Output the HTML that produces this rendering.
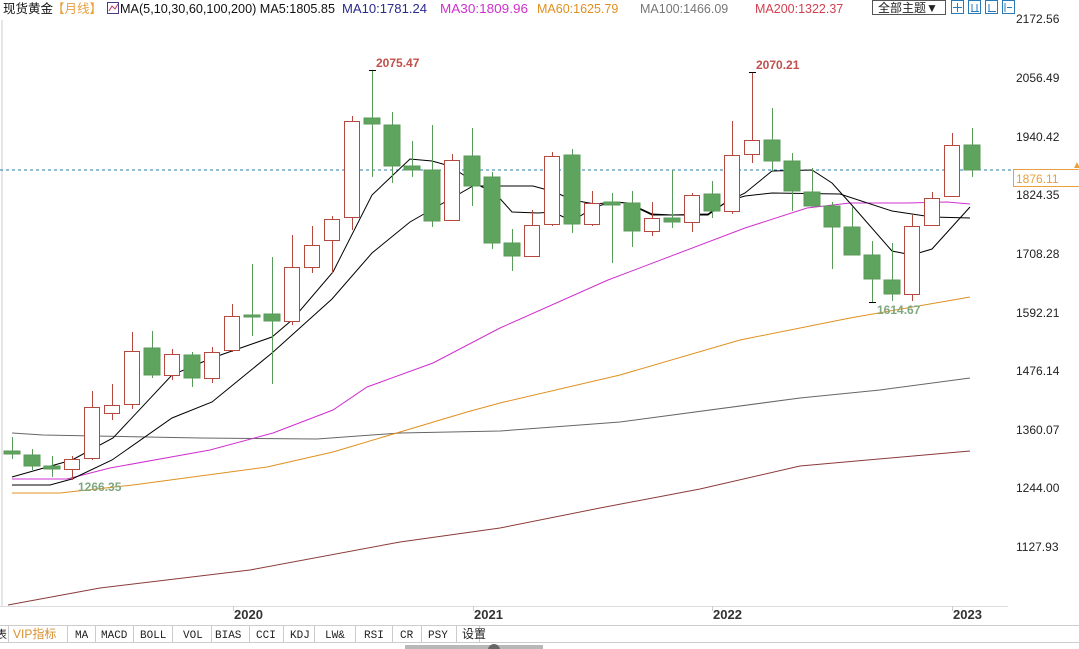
<!DOCTYPE html>
<html><head><meta charset="utf-8"><style>
body{margin:0;width:1079px;height:649px;overflow:hidden;background:#fff;font-family:"Liberation Sans","Noto Sans CJK SC",sans-serif;}
svg{position:absolute;left:0;top:0}
</style></head><body>
<svg width="1079" height="649" viewBox="0 0 1079 649" xmlns="http://www.w3.org/2000/svg">
<rect x="0" y="0" width="1079" height="649" fill="#fff"/>
<line x1="2" y1="20" x2="2" y2="606" stroke="#ccc"/>
<line x1="0" y1="606.5" x2="1008" y2="606.5" stroke="#ddd"/>
<g stroke="#ccc"><line x1="233.5" y1="606" x2="233.5" y2="611"/><line x1="473.5" y1="606" x2="473.5" y2="611"/><line x1="712.5" y1="606" x2="712.5" y2="611"/><line x1="952.5" y1="606" x2="952.5" y2="611"/></g>
<g font-size="13" font-weight="bold" fill="#333"><text x="234" y="619">2020</text><text x="474" y="619">2021</text><text x="713" y="619">2022</text><text x="953" y="619">2023</text></g>
<g font-size="12" fill="#222"><text x="1016" y="23">2172.56</text><text x="1016" y="82">2056.49</text><text x="1016" y="141">1940.42</text><text x="1016" y="199">1824.35</text><text x="1016" y="258">1708.28</text><text x="1016" y="317">1592.21</text><text x="1016" y="375">1476.14</text><text x="1016" y="434">1360.07</text><text x="1016" y="492">1244.00</text><text x="1016" y="551">1127.93</text></g>
<line x1="0" y1="170" x2="1079" y2="170" stroke="#2a7ca8" stroke-dasharray="3,3"/>
<rect x="1013.5" y="169.5" width="66" height="17" fill="#fff" stroke="#e8a040"/>
<text x="1016" y="183" font-size="12" fill="#e8a040">1876.11</text>
<text x="1072" y="168" font-size="10" fill="#e8a040">▲</text>
<polyline fill="none" stroke="#8b3a3a" stroke-width="1" points="8,605 100,588 250,570 400,542 500,528 600,508 700,489 800,466 970,451"/>
<polyline fill="none" stroke="#666" stroke-width="1" points="12,433 43,435 200,438 317,439 400,433 500,431 620,422 800,398 880,390 970,378"/>
<polyline fill="none" stroke="#e09020" stroke-width="1" points="12,493 60,493 133,485 267,467 333,452 400,432 467,412 500,403 620,375 740,340 850,318 970,297"/>
<polyline fill="none" stroke="#d030d0" stroke-width="1" points="12,479 67,479 110,468 210,450 273,433 333,410 367,387 433,363 500,328 608,280 745,228 807,208 850,203 907,203 947,202 970,204"/>
<polyline fill="none" stroke="#000" stroke-width="1" points="12,485 50,485 72,479 112,460 172,418 212,402 272,353 332,299 372,253 410,222 473,186 533,186 555,192 572,200 595,204 615,202 628,203 652,214 672,215 708,214 728,201 745,196 772,193 840,194 892,211 932,217 970,218"/>
<polyline fill="none" stroke="#000" stroke-width="1" points="12,477 72,460 113,438 172,375 212,358 272,337 292,320 333,272 372,195 410,159 432,161 450,166 480,186 495,193 512,212 538,213 553,212 572,221 595,207 612,202 627,203 652,215 708,215 725,203 745,193 772,171 812,170 832,183 850,203 892,251 912,255 932,249 970,207"/>
<g stroke-width="1">
<g stroke="#5a9a5a" fill="#5ea35e">
<line x1="12.5" y1="437" x2="12.5" y2="459"/><rect x="4" y="451" width="16" height="3"/>
<line x1="32.5" y1="449" x2="32.5" y2="470"/><rect x="24" y="455" width="16" height="11"/>
<line x1="52.5" y1="456" x2="52.5" y2="477"/><rect x="44" y="466" width="16" height="3"/>
<line x1="152.5" y1="331" x2="152.5" y2="378"/><rect x="144" y="348" width="16" height="27"/>
<line x1="192.5" y1="352" x2="192.5" y2="387"/><rect x="184" y="355" width="16" height="23"/>
<line x1="252.5" y1="264" x2="252.5" y2="336"/><rect x="244" y="315" width="16" height="2"/>
<line x1="272.5" y1="257" x2="272.5" y2="384"/><rect x="264" y="314" width="16" height="7"/>
<line x1="372.5" y1="70" x2="372.5" y2="177"/><rect x="364" y="118" width="16" height="6"/>
<line x1="392.5" y1="112" x2="392.5" y2="183"/><rect x="384" y="125" width="16" height="41"/>
<line x1="412.5" y1="141" x2="412.5" y2="177"/><rect x="404" y="166" width="16" height="4"/>
<line x1="432.5" y1="125" x2="432.5" y2="227"/><rect x="424" y="170" width="16" height="51"/>
<line x1="472.5" y1="128" x2="472.5" y2="206"/><rect x="464" y="156" width="16" height="30"/>
<line x1="492.5" y1="172" x2="492.5" y2="249"/><rect x="484" y="177" width="16" height="66"/>
<line x1="512.5" y1="229" x2="512.5" y2="271"/><rect x="504" y="243" width="16" height="13"/>
<line x1="572.5" y1="149" x2="572.5" y2="233"/><rect x="564" y="155" width="16" height="69"/>
<line x1="612.5" y1="193" x2="612.5" y2="263"/><rect x="604" y="202" width="16" height="3"/>
<line x1="632.5" y1="191" x2="632.5" y2="247"/><rect x="624" y="203" width="16" height="28"/>
<line x1="672.5" y1="170" x2="672.5" y2="228"/><rect x="664" y="218" width="16" height="4"/>
<line x1="712.5" y1="181" x2="712.5" y2="218"/><rect x="704" y="194" width="16" height="17"/>
<line x1="772.5" y1="108" x2="772.5" y2="171"/><rect x="764" y="140" width="16" height="21"/>
<line x1="792.5" y1="153" x2="792.5" y2="211"/><rect x="784" y="161" width="16" height="30"/>
<line x1="812.5" y1="168" x2="812.5" y2="207"/><rect x="804" y="192" width="16" height="14"/>
<line x1="832.5" y1="202" x2="832.5" y2="269"/><rect x="824" y="206" width="16" height="21"/>
<line x1="852.5" y1="207" x2="852.5" y2="255"/><rect x="844" y="227" width="16" height="28"/>
<line x1="872.5" y1="241" x2="872.5" y2="302"/><rect x="864" y="255" width="16" height="24"/>
<line x1="892.5" y1="243" x2="892.5" y2="301"/><rect x="884" y="280" width="16" height="14"/>
<line x1="972.5" y1="128" x2="972.5" y2="177"/><rect x="964" y="145" width="16" height="25"/>
</g>
<g stroke="#b5483f" fill="#fff">
<line x1="72.5" y1="456" x2="72.5" y2="480"/><rect x="64.5" y="459.5" width="15" height="10"/>
<line x1="92.5" y1="391" x2="92.5" y2="460"/><rect x="84.5" y="407.5" width="15" height="51"/>
<line x1="112.5" y1="384" x2="112.5" y2="420"/><rect x="104.5" y="405.5" width="15" height="8"/>
<line x1="132.5" y1="332" x2="132.5" y2="409"/><rect x="124.5" y="351.5" width="15" height="53"/>
<line x1="172.5" y1="349" x2="172.5" y2="380"/><rect x="164.5" y="354.5" width="15" height="21"/>
<line x1="212.5" y1="347" x2="212.5" y2="383"/><rect x="204.5" y="352.5" width="15" height="26"/>
<line x1="232.5" y1="304" x2="232.5" y2="352"/><rect x="224.5" y="316.5" width="15" height="34"/>
<line x1="292.5" y1="235" x2="292.5" y2="325"/><rect x="284.5" y="267.5" width="15" height="54"/>
<line x1="312.5" y1="226" x2="312.5" y2="273"/><rect x="304.5" y="245.5" width="15" height="22"/>
<line x1="332.5" y1="216" x2="332.5" y2="273"/><rect x="324.5" y="219.5" width="15" height="21"/>
<line x1="352.5" y1="116" x2="352.5" y2="230"/><rect x="344.5" y="121.5" width="15" height="96"/>
<line x1="452.5" y1="154" x2="452.5" y2="221"/><rect x="444.5" y="160.5" width="15" height="60"/>
<line x1="532.5" y1="210" x2="532.5" y2="256"/><rect x="524.5" y="225.5" width="15" height="31"/>
<line x1="552.5" y1="152" x2="552.5" y2="226"/><rect x="544.5" y="156.5" width="15" height="68"/>
<line x1="592.5" y1="191" x2="592.5" y2="226"/><rect x="584.5" y="203.5" width="15" height="21"/>
<line x1="652.5" y1="202" x2="652.5" y2="236"/><rect x="644.5" y="218.5" width="15" height="13"/>
<line x1="692.5" y1="193" x2="692.5" y2="232"/><rect x="684.5" y="195.5" width="15" height="27"/>
<line x1="732.5" y1="121" x2="732.5" y2="214"/><rect x="724.5" y="155.5" width="15" height="56"/>
<line x1="752.5" y1="72" x2="752.5" y2="163"/><rect x="744.5" y="140.5" width="15" height="14"/>
<line x1="912.5" y1="215" x2="912.5" y2="301"/><rect x="904.5" y="226.5" width="15" height="68"/>
<line x1="932.5" y1="192" x2="932.5" y2="226"/><rect x="924.5" y="198.5" width="15" height="27"/>
<line x1="952.5" y1="133" x2="952.5" y2="197"/><rect x="944.5" y="145.5" width="15" height="51"/>
</g>
</g>
<g stroke="#000"><line x1="369" y1="70.5" x2="376" y2="70.5"/><line x1="749" y1="72.5" x2="756" y2="72.5"/><line x1="869" y1="302.5" x2="876" y2="302.5"/></g>
<g font-size="12" font-weight="bold"><text x="376" y="67" fill="#c0504d">2075.47</text><text x="756" y="69" fill="#c0504d">2070.21</text><text x="78" y="491" fill="#7fa87f">1266.35</text><text x="877" y="314" fill="#7fa87f">1614.67</text></g>
<text x="3" y="13" font-size="12.5" fill="#111">现货黄金</text>
<text x="52" y="13" font-size="12.5" fill="#e8a040">【月线】</text>
<rect x="107.5" y="2.5" width="11" height="11" fill="#fff" stroke="#4a3a8a"/><polyline points="109,11 112,6 115,9 118,4" fill="none" stroke="#c03060"/>
<text x="120" y="13" font-size="12.5" fill="#111" textLength="215" lengthAdjust="spacingAndGlyphs">MA(5,10,30,60,100,200) MA5:1805.85</text>
<text x="342" y="13" font-size="12.5" fill="#2a2a8a" textLength="85" lengthAdjust="spacingAndGlyphs">MA10:1781.24</text>
<text x="440" y="13" font-size="12.5" fill="#d030d0" textLength="88" lengthAdjust="spacingAndGlyphs">MA30:1809.96</text>
<text x="537" y="13" font-size="12.5" fill="#e09020">MA60:1625.79</text>
<text x="640" y="13" font-size="12.5" fill="#777">MA100:1466.09</text>
<text x="755" y="13" font-size="12.5" fill="#d04050">MA200:1322.37</text>
<rect x="872.5" y="0.5" width="73" height="14" fill="#fff" stroke="#555"/>
<text x="878" y="12" font-size="12" fill="#222">全部主题▼</text>
<g fill="#fff" stroke="#2a7ab8"><rect x="951.5" y="0.5" width="12" height="13"/><rect x="968.5" y="0.5" width="12" height="13"/><rect x="985.5" y="0.5" width="12" height="13"/><rect x="1002.5" y="0.5" width="12" height="13"/></g>
<g stroke="#2a7ab8"><line x1="957.5" y1="3" x2="957.5" y2="12"/><line x1="953" y1="7.5" x2="962" y2="7.5"/><line x1="972" y1="4" x2="972" y2="11"/><line x1="977" y1="4" x2="977" y2="11"/><line x1="971" y1="11.5" x2="979" y2="11.5"/><line x1="989" y1="4" x2="989" y2="12"/><line x1="988" y1="11.5" x2="996" y2="11.5"/><line x1="1005" y1="3" x2="1005" y2="12"/><line x1="1007" y1="7.5" x2="1012" y2="7.5"/></g>
<line x1="0" y1="625.5" x2="1079" y2="625.5" stroke="#ccc"/>
<line x1="0" y1="642.5" x2="1079" y2="642.5" stroke="#ccc"/>
<g stroke="#ccc"><line x1="8.5" y1="626" x2="8.5" y2="642"/><line x1="67.5" y1="626" x2="67.5" y2="642"/><line x1="95.5" y1="626" x2="95.5" y2="642"/><line x1="133.5" y1="626" x2="133.5" y2="642"/><line x1="172.5" y1="626" x2="172.5" y2="642"/><line x1="211.5" y1="626" x2="211.5" y2="642"/><line x1="249.5" y1="626" x2="249.5" y2="642"/><line x1="283.5" y1="626" x2="283.5" y2="642"/><line x1="314.5" y1="626" x2="314.5" y2="642"/><line x1="355.5" y1="626" x2="355.5" y2="642"/><line x1="392.5" y1="626" x2="392.5" y2="642"/><line x1="421.5" y1="626" x2="421.5" y2="642"/><line x1="456.5" y1="626" x2="456.5" y2="642"/><line x1="479.5" y1="626" x2="479.5" y2="642"/></g>
<g font-size="11" font-family="Liberation Mono, monospace" fill="#222">
<text x="-4" y="638">表</text>
<text x="13" y="638" fill="#d89030" font-family="Liberation Sans, Noto Sans CJK SC, sans-serif" font-size="12">VIP指标</text>
<text x="75" y="638">MA</text><text x="101" y="638">MACD</text><text x="140" y="638">BOLL</text><text x="183" y="638">VOL</text><text x="215" y="638">BIAS</text><text x="256" y="638">CCI</text><text x="290" y="638">KDJ</text><text x="325" y="638">LW&amp;</text><text x="364" y="638">RSI</text><text x="400" y="638">CR</text><text x="428" y="638">PSY</text>
<text x="462" y="638" font-family="Liberation Sans, Noto Sans CJK SC, sans-serif" font-size="12">设置</text>
</g>
<rect x="405" y="645" width="138" height="4" fill="#b8b8b8"/>
<circle cx="494" cy="650" r="6" fill="#666"/>
</svg>
</body></html>
